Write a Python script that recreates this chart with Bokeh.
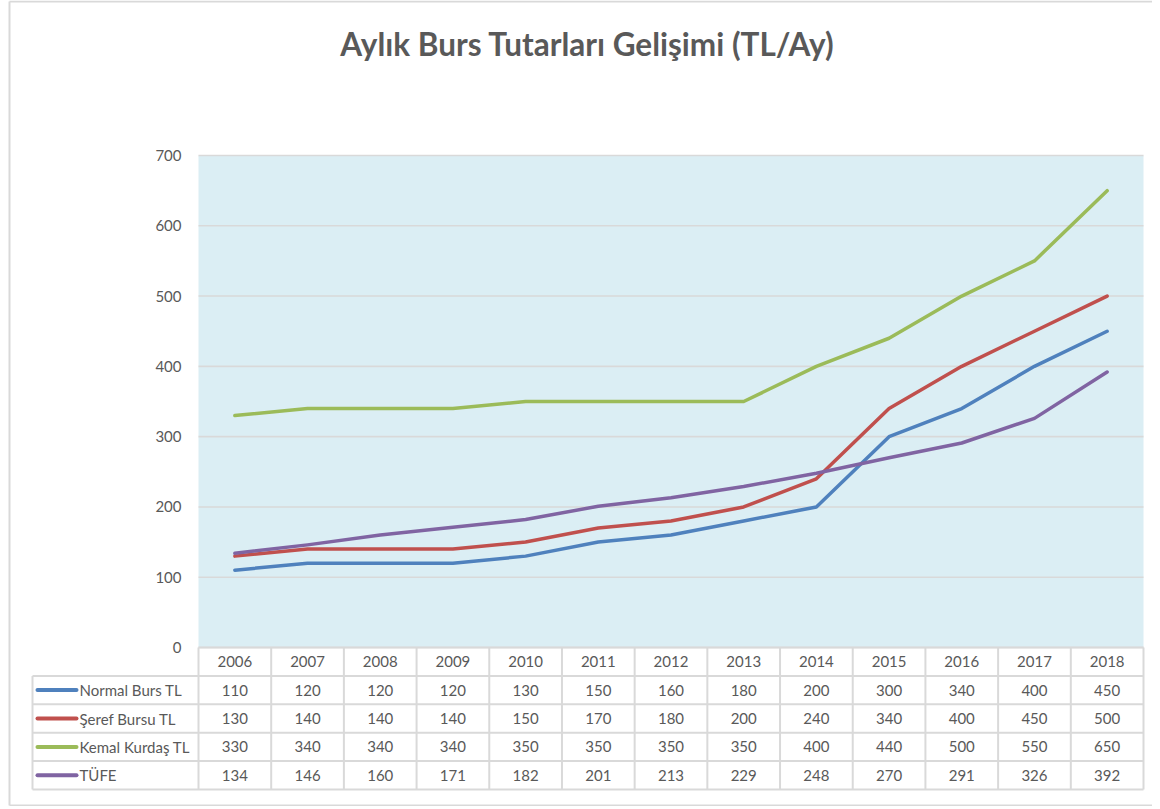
from bokeh.plotting import figure
from bokeh.models import Range1d
from bokeh.embed import file_html
from bokeh.resources import INLINE
from bokeh.core.properties import value

# ---- data ----
years = ["2006", "2007", "2008", "2009", "2010", "2011", "2012",
         "2013", "2014", "2015", "2016", "2017", "2018"]
normal_burs = [110, 120, 120, 120, 130, 150, 160, 180, 200, 300, 340, 400, 450]
seref_bursu = [130, 140, 140, 140, 150, 170, 180, 200, 240, 340, 400, 450, 500]
kemal_kurdas = [330, 340, 340, 340, 350, 350, 350, 350, 400, 440, 500, 550, 650]
tufe = [134, 146, 160, 171, 182, 201, 213, 229, 248, 270, 291, 326, 392]
series_names = ["Normal Burs TL", "Şeref Bursu TL", "Kemal Kurdaş TL", "TÜFE"]
series_values = [normal_burs, seref_bursu, kemal_kurdas, tufe]
colors = ["#4F81BD", "#C0504D", "#9BBB59", "#8064A2"]
y_ticks = [0, 100, 200, 300, 400, 500, 600, 700]
title_text = "Aylık Burs Tutarları Gelişimi (TL/Ay)"

# ---- layout constants (page pixels) ----
OX, OY = 0, 0            # page position of the canvas
W, H = 1152, 806
PL, PR = 198, 1143       # plot area left/right
PT, PB = 155, 647        # plot area top (700) / bottom (0)
ROWH = 28.4              # table row height
TL = 32                  # table left edge

n = len(years)
colw = (PR - PL) / n
uy = 700.0 / (PB - PT)

def X(px):
    return (px - PL) / colw

def Y(py):
    return (PB - py) * uy

FONT = value("Lato")
TXT = "#595959"
GRID = "#D9D9D9"

p = figure(width=W, height=H, output_backend="svg", toolbar_location=None,
           x_range=Range1d(X(OX), X(OX + W)), y_range=Range1d(Y(OY + H), Y(OY)),
           x_axis_location=None, y_axis_location=None,
           min_border=0, background_fill_color="white",
           border_fill_color="white", outline_line_color=None)
p.grid.visible = False

# plot area background
p.quad(left=[0], right=[n], bottom=[y_ticks[0]], top=[y_ticks[-1]],
       fill_color="#DBEEF4", line_color=None)
# horizontal gridlines
p.segment(x0=[0] * len(y_ticks), y0=y_ticks, x1=[n] * len(y_ticks), y1=y_ticks,
          line_color=GRID, line_width=1.6)
# y tick labels
p.text(x=[X(PL - 17)] * len(y_ticks), y=y_ticks, text=[str(t) for t in y_ticks],
       text_align="right", text_baseline="middle", text_font=FONT,
       text_font_size="15px", text_color=TXT)

# series lines
xc = [i + 0.5 for i in range(n)]
for vals, col in zip(series_values, colors):
    p.line(x=xc, y=vals, line_color=col, line_width=3.5, line_join="round",
           line_cap="round")

# ---- data table ----
rows = [Y(PB + k * ROWH) for k in range(6)]   # row boundaries
xl = X(TL)
hx0 = [0] + [xl] * 5
p.segment(x0=hx0, y0=rows, x1=[n] * 6, y1=rows, line_color=GRID, line_width=2)
vx = list(range(n + 1)) + [xl]
p.segment(x0=vx, y0=[rows[5]] * (n + 2), x1=vx,
          y1=[rows[0]] * (n + 1) + [rows[1]], line_color=GRID, line_width=2)

mid = lambda k: (rows[k] + rows[k + 1]) / 2
p.text(x=xc, y=[mid(0)] * n, text=years, text_align="center",
       text_baseline="middle", text_font=FONT, text_font_size="15px",
       text_color=TXT)
for k, (name, vals, col) in enumerate(zip(series_names, series_values, colors)):
    yc = mid(k + 1)
    p.text(x=xc, y=[yc] * n, text=[str(v) for v in vals], text_align="center",
           text_baseline="middle", text_font=FONT, text_font_size="15px",
           text_color=TXT)
    p.segment(x0=[X(37)], y0=[yc], x1=[X(76)], y1=[yc], line_color=col,
              line_width=4, line_cap="round")
    p.text(x=[X(79)], y=[yc], text=[name], text_align="left",
           text_baseline="middle", text_font=FONT, text_font_size="15px",
           text_color=TXT)

# ---- title ----
p.text(x=[X(587)], y=[Y(43)], text=[title_text], text_align="center",
       text_baseline="middle", text_font=FONT, text_font_style="bold",
       text_font_size="31.5px", text_color=TXT)

# ---- chart border ----
p.segment(x0=[X(9), X(9), X(9)], y0=[Y(1), Y(1), Y(805)],
          x1=[X(9), X(OX + W), X(OX + W)], y1=[Y(805), Y(1), Y(805)],
          line_color=GRID, line_width=2)

open("out.html", "w").write(file_html(p, INLINE))
